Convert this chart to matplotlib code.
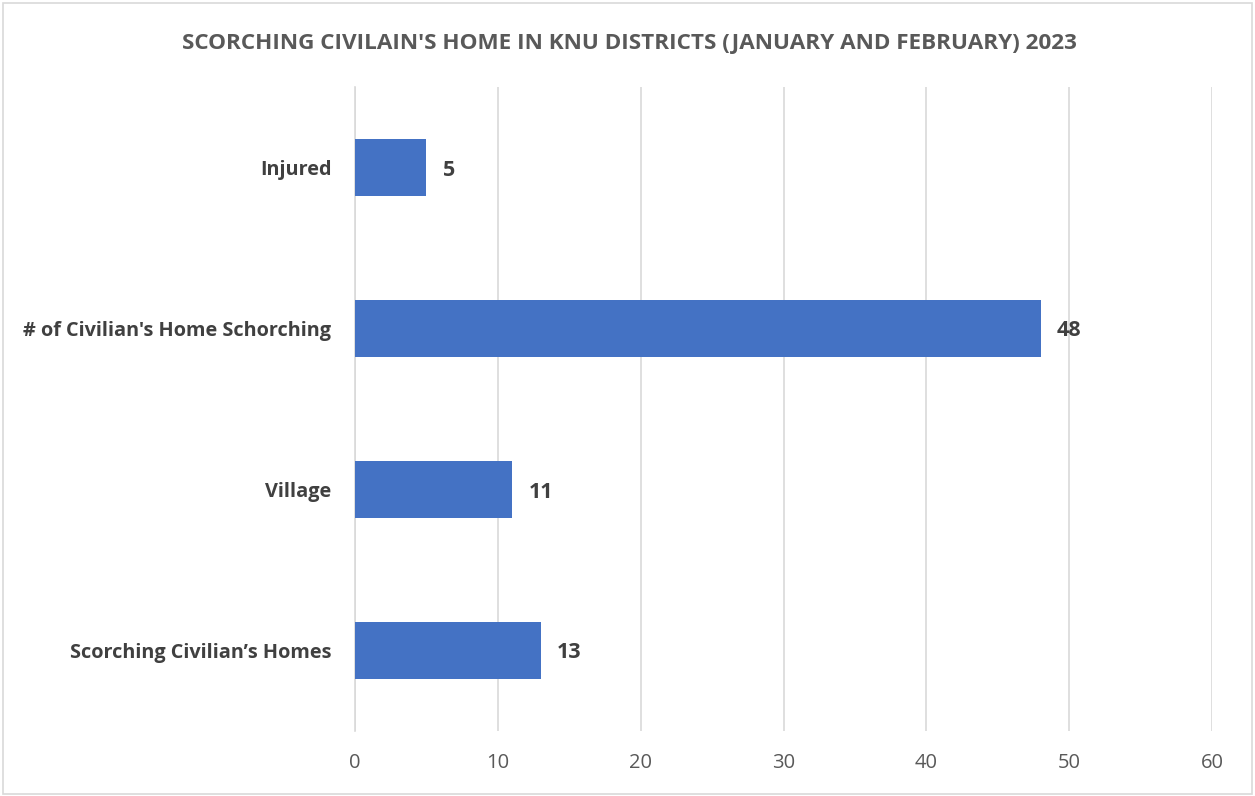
import matplotlib.pyplot as plt

# data
categories = ['Scorching Civilian\u2019s Homes', 'Village', "# of Civilian's Home Schorching", 'Injured']
values = [13, 11, 48, 5]
xticks = [0, 10, 20, 30, 40, 50, 60]
title = "SCORCHING CIVILAIN'S HOME IN KNU DISTRICTS (JANUARY AND FEBRUARY) 2023"

plt.rcParams['font.family'] = ['Open Sans', 'DejaVu Sans']

fig = plt.figure(figsize=(12.55, 7.96), dpi=100)
# plot area in pixel terms: x 355..1212, y 87..731
ax = fig.add_axes([355 / 1255, 1 - 731 / 796, (1212 - 355) / 1255, (731 - 87) / 796])

pos = list(range(len(categories)))
ax.barh(pos, values, height=0.355, color='#4472C4', zorder=3)
for p, v in zip(pos, values):
    ax.text(v + 1.15, p, str(v), va='center_baseline', ha='left', fontsize=15.5,
            fontweight='bold', color='#404040')

ax.set_xlim(0, 60)
ax.set_ylim(-0.5, len(categories) - 0.5)
ax.set_xticks(xticks)
ax.set_xticklabels([str(t) for t in xticks], fontsize=14.5, color='#595959')
ax.set_yticks(pos)
ax.set_yticklabels(categories, fontsize=14.3, fontweight='bold', color='#404040')
ax.tick_params(axis='both', length=0)
ax.tick_params(axis='x', pad=16)
ax.tick_params(axis='y', pad=17)
ax.grid(axis='x', color='#d9d9d9', linewidth=1.2, zorder=0)
for s in ['top', 'right', 'bottom']:
    ax.spines[s].set_visible(False)
ax.spines['left'].set_color('#d9d9d9')
ax.spines['left'].set_linewidth(1.2)

fig.text(629 / 1255, 1 - 41 / 796, title, ha='center', va='center_baseline',
         fontsize=16.2, fontweight='bold', color='#595959')

# chart border
border = plt.Rectangle((0.002, 0.002), 0.996, 0.994, transform=fig.transFigure,
                       fill=False, edgecolor='#d9d9d9', linewidth=1.2)
fig.patches.append(border)

fig.savefig('out.png', dpi=100)
